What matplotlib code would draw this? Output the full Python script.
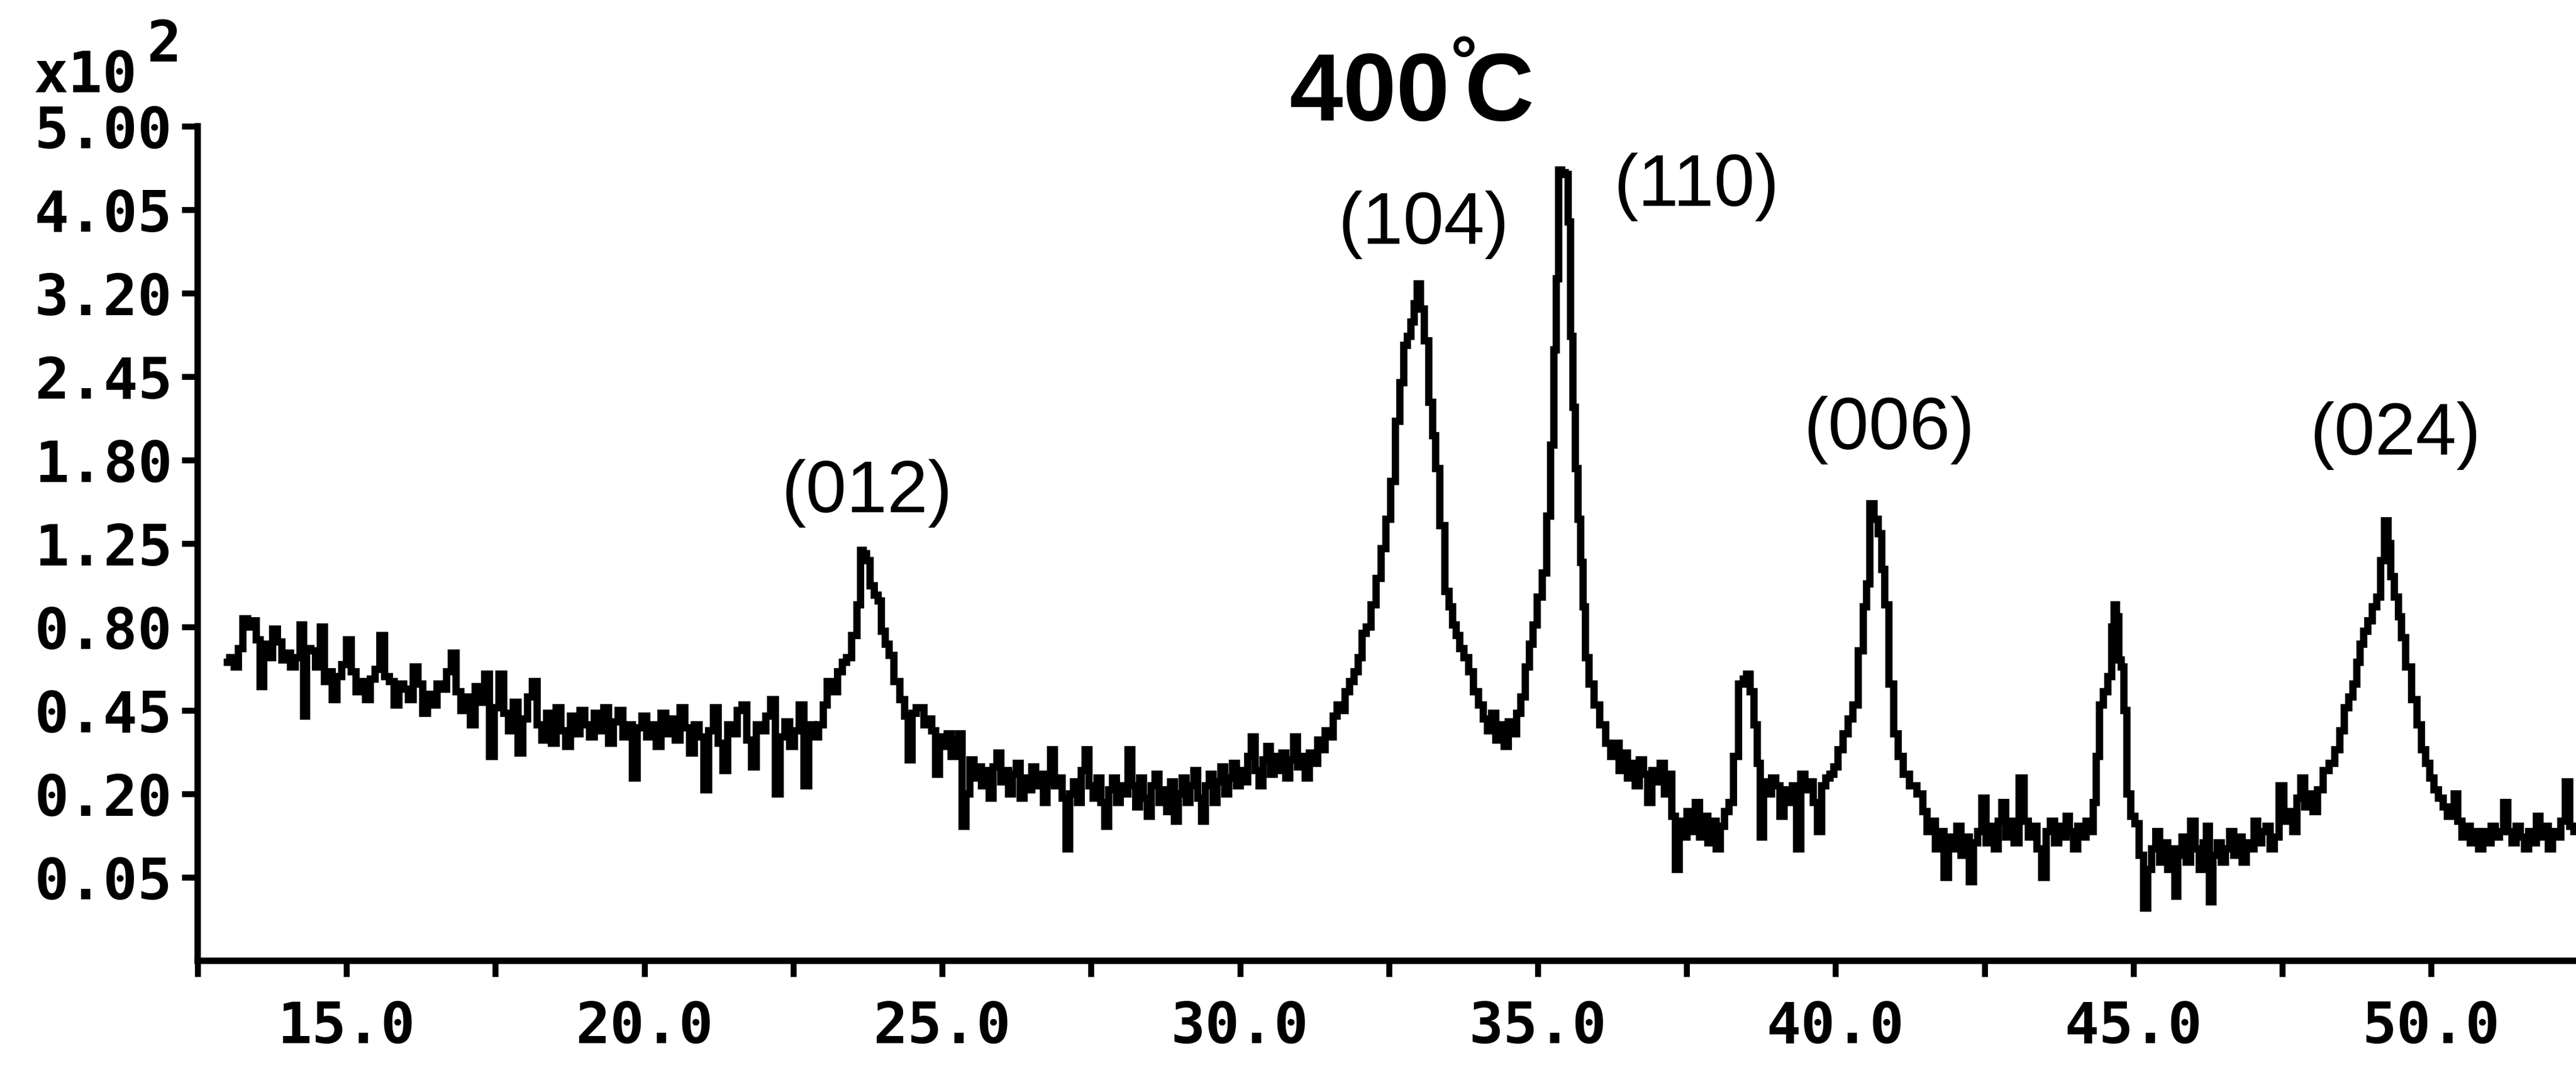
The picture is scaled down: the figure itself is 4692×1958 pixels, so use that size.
import numpy as np
import matplotlib
matplotlib.use("Agg")
import matplotlib.pyplot as plt
from matplotlib.ticker import MultipleLocator, FixedLocator

# 2-theta (deg) and intensity (x10^2 counts)
two_theta = [
    13.00, 13.08, 13.15, 13.22, 13.30, 13.38, 13.45, 13.52, 13.58, 13.64,
    13.72, 13.80, 13.88, 13.95, 14.02, 14.10, 14.18, 14.26, 14.30, 14.36,
    14.44, 14.52, 14.60, 14.66, 14.72, 14.80, 14.88, 14.96, 15.04, 15.12,
    15.20, 15.28, 15.36, 15.44, 15.52, 15.60, 15.68, 15.76, 15.84, 15.92,
    16.00, 16.08, 16.16, 16.24, 16.32, 16.40, 16.48, 16.56, 16.64, 16.72,
    16.80, 16.88, 16.96, 17.04, 17.12, 17.20, 17.28, 17.36, 17.44, 17.52,
    17.60, 17.68, 17.76, 17.84, 17.92, 18.00, 18.08, 18.16, 18.24, 18.32,
    18.40, 18.48, 18.56, 18.64, 18.72, 18.80, 18.88, 18.96, 19.04, 19.12,
    19.20, 19.28, 19.36, 19.44, 19.52, 19.60, 19.68, 19.76, 19.84, 19.92,
    20.00, 20.08, 20.16, 20.24, 20.32, 20.40, 20.48, 20.56, 20.64, 20.72,
    20.80, 20.88, 20.96, 21.04, 21.12, 21.20, 21.28, 21.36, 21.44, 21.52,
    21.60, 21.68, 21.76, 21.84, 21.92, 22.00, 22.08, 22.16, 22.24, 22.32,
    22.40, 22.48, 22.56, 22.64, 22.72, 22.80, 22.88, 22.97, 23.04, 23.10,
    23.20, 23.29, 23.36, 23.43, 23.53, 23.61, 23.65, 23.70, 23.76, 23.82,
    23.90, 23.95, 24.01, 24.08, 24.14, 24.24, 24.34, 24.40, 24.46, 24.53,
    24.60, 24.66, 24.73, 24.79, 24.86, 24.92, 24.99, 25.05, 25.12, 25.18,
    25.25, 25.30, 25.37, 25.43, 25.50, 25.57, 25.63, 25.69, 25.76, 25.82,
    25.89, 25.95, 26.02, 26.08, 26.15, 26.21, 26.28, 26.34, 26.41, 26.47,
    26.54, 26.60, 26.67, 26.73, 26.79, 26.85, 26.92, 26.98, 27.05, 27.11,
    27.17, 27.24, 27.30, 27.37, 27.43, 27.50, 27.57, 27.63, 27.70, 27.76,
    27.83, 27.89, 27.96, 28.02, 28.09, 28.15, 28.22, 28.28, 28.35, 28.41,
    28.48, 28.54, 28.61, 28.67, 28.74, 28.80, 28.87, 28.93, 29.00, 29.06,
    29.13, 29.19, 29.26, 29.32, 29.39, 29.45, 29.52, 29.58, 29.65, 29.71,
    29.78, 29.84, 29.91, 29.97, 30.04, 30.10, 30.16, 30.22, 30.29, 30.35,
    30.42, 30.48, 30.54, 30.61, 30.67, 30.74, 30.80, 30.87, 30.93, 31.00,
    31.06, 31.13, 31.20, 31.27, 31.34, 31.40, 31.46, 31.53, 31.60, 31.66,
    31.73, 31.80, 31.88, 31.95, 32.02, 32.08, 32.16, 32.24, 32.33, 32.41,
    32.49, 32.57, 32.65, 32.72, 32.78, 32.84, 32.90, 32.95, 33.00, 33.06,
    33.13, 33.21, 33.26, 33.31, 33.40, 33.48, 33.54, 33.60, 33.66, 33.72,
    33.80, 33.88, 33.96, 34.05, 34.12, 34.19, 34.26, 34.33, 34.40, 34.47,
    34.54, 34.61, 34.68, 34.75, 34.83, 34.89, 34.95, 35.03, 35.12, 35.18,
    35.25, 35.29, 35.33, 35.37, 35.43, 35.49, 35.53, 35.57, 35.61, 35.65,
    35.70, 35.74, 35.78, 35.82, 35.90, 35.99, 36.09, 36.19, 36.26, 36.33,
    36.40, 36.47, 36.54, 36.60, 36.67, 36.74, 36.81, 36.88, 36.95, 37.02,
    37.09, 37.16, 37.22, 37.28, 37.34, 37.41, 37.47, 37.54, 37.61, 37.68,
    37.75, 37.82, 37.89, 37.96, 38.03, 38.10, 38.17, 38.25, 38.32, 38.42,
    38.48, 38.53, 38.60, 38.66, 38.71, 38.76, 38.82, 38.89, 38.96, 39.03,
    39.10, 39.17, 39.24, 39.31, 39.38, 39.45, 39.52, 39.59, 39.66, 39.73,
    39.80, 39.87, 39.94, 40.00, 40.08, 40.17, 40.25, 40.33, 40.43, 40.50,
    40.54, 40.61, 40.68, 40.75, 40.80, 40.85, 40.94, 41.01, 41.09, 41.18,
    41.30, 41.43, 41.50, 41.57, 41.64, 41.71, 41.78, 41.86, 41.93, 42.00,
    42.07, 42.14, 42.21, 42.28, 42.35, 42.42, 42.49, 42.56, 42.63, 42.70,
    42.76, 42.82, 42.89, 42.96, 43.03, 43.13, 43.20, 43.27, 43.34, 43.42,
    43.50, 43.57, 43.64, 43.71, 43.78, 43.85, 43.89, 43.96, 44.03, 44.10,
    44.17, 44.24, 44.30, 44.35, 44.40, 44.46, 44.53, 44.61, 44.66, 44.69,
    44.74, 44.77, 44.82, 44.86, 44.92, 44.99, 45.06, 45.13, 45.21, 45.27,
    45.34, 45.41, 45.47, 45.54, 45.61, 45.68, 45.71, 45.78, 45.85, 45.92,
    46.00, 46.07, 46.14, 46.20, 46.25, 46.30, 46.37, 46.44, 46.51, 46.58,
    46.65, 46.72, 46.79, 46.86, 46.93, 47.00, 47.05, 47.12, 47.19, 47.26,
    47.33, 47.40, 47.49, 47.56, 47.64, 47.71, 47.78, 47.84, 47.91, 47.98,
    48.05, 48.13, 48.24, 48.33, 48.43, 48.50, 48.58, 48.65, 48.72, 48.78,
    48.83, 48.90, 48.97, 49.05, 49.12, 49.18, 49.25, 49.30, 49.34, 49.42,
    49.48, 49.52, 49.62, 49.72, 49.80, 49.87, 49.94, 50.01, 50.08, 50.16,
    50.24, 50.30, 50.36, 50.41, 50.48, 50.55, 50.62, 50.69, 50.76, 50.83,
    50.90, 50.97, 51.04, 51.11, 51.18, 51.25, 51.32, 51.39, 51.46, 51.53,
    51.60, 51.67, 51.74, 51.79, 51.86, 51.93, 52.00, 52.07, 52.14, 52.21,
    52.29, 52.36, 52.43,
]
intensity = [
    0.64, 0.66, 0.62, 0.70, 0.84, 0.80, 0.83, 0.74, 0.54, 0.72,
    0.66, 0.79, 0.73, 0.65, 0.68, 0.62, 0.66, 0.81, 0.43, 0.70,
    0.69, 0.62, 0.80, 0.56, 0.60, 0.49, 0.58, 0.63, 0.74, 0.60,
    0.52, 0.56, 0.49, 0.57, 0.61, 0.76, 0.58, 0.56, 0.47, 0.55,
    0.53, 0.49, 0.62, 0.55, 0.44, 0.51, 0.47, 0.55, 0.53, 0.60,
    0.68, 0.52, 0.45, 0.50, 0.40, 0.54, 0.48, 0.59, 0.30, 0.46,
    0.59, 0.44, 0.38, 0.48, 0.31, 0.42, 0.50, 0.56, 0.40, 0.35,
    0.44, 0.34, 0.46, 0.38, 0.33, 0.43, 0.37, 0.45, 0.40, 0.36,
    0.44, 0.38, 0.46, 0.34, 0.41, 0.45, 0.36, 0.40, 0.24, 0.39,
    0.43, 0.36, 0.40, 0.33, 0.44, 0.37, 0.42, 0.35, 0.46, 0.39,
    0.31, 0.40, 0.36, 0.21, 0.38, 0.46, 0.34, 0.26, 0.40, 0.37,
    0.45, 0.47, 0.35, 0.27, 0.40, 0.38, 0.43, 0.49, 0.20, 0.36,
    0.41, 0.33, 0.38, 0.47, 0.22, 0.40, 0.36, 0.40, 0.47, 0.56,
    0.52, 0.60, 0.64, 0.66, 0.76, 0.91, 1.21, 1.19, 1.15, 1.01,
    0.96, 0.93, 0.78, 0.72, 0.67, 0.56, 0.49, 0.43, 0.29, 0.44,
    0.46, 0.46, 0.40, 0.42, 0.38, 0.25, 0.36, 0.33, 0.37, 0.30,
    0.35, 0.37, 0.13, 0.20, 0.29, 0.24, 0.27, 0.22, 0.26, 0.19,
    0.27, 0.31, 0.23, 0.26, 0.20, 0.25, 0.28, 0.19, 0.24, 0.21,
    0.27, 0.22, 0.25, 0.18, 0.23, 0.32, 0.22, 0.24, 0.19, 0.09,
    0.20, 0.23, 0.18, 0.26, 0.32, 0.22, 0.19, 0.24, 0.18, 0.13,
    0.21, 0.24, 0.18, 0.22, 0.20, 0.32, 0.22, 0.17, 0.24, 0.19,
    0.15, 0.22, 0.25, 0.18, 0.21, 0.16, 0.23, 0.14, 0.20, 0.24,
    0.18, 0.22, 0.26, 0.19, 0.14, 0.22, 0.25, 0.18, 0.23, 0.27,
    0.20, 0.24, 0.28, 0.22, 0.26, 0.23, 0.30, 0.36, 0.26, 0.22,
    0.29, 0.33, 0.25, 0.30, 0.26, 0.31, 0.24, 0.29, 0.36, 0.27,
    0.30, 0.24, 0.31, 0.28, 0.35, 0.32, 0.38, 0.36, 0.43, 0.47,
    0.45, 0.52, 0.56, 0.60, 0.66, 0.77, 0.80, 0.91, 1.05, 1.22,
    1.40, 1.65, 2.09, 2.40, 2.72, 2.80, 2.93, 3.10, 3.29, 3.05,
    2.76, 2.24, 1.98, 1.74, 1.36, 0.98, 0.90, 0.81, 0.76, 0.70,
    0.66, 0.60, 0.52, 0.47, 0.42, 0.38, 0.44, 0.35, 0.40, 0.33,
    0.41, 0.37, 0.44, 0.50, 0.62, 0.72, 0.81, 0.95, 1.08, 1.42,
    1.91, 2.68, 3.34, 4.49, 4.46, 4.44, 3.92, 2.80, 2.20, 1.74,
    1.40, 1.14, 0.90, 0.66, 0.55, 0.47, 0.40, 0.34, 0.30, 0.34,
    0.26, 0.31, 0.24, 0.28, 0.22, 0.29, 0.25, 0.18, 0.26, 0.23,
    0.28, 0.20, 0.25, 0.15, 0.06, 0.14, 0.11, 0.16, 0.12, 0.18,
    0.11, 0.15, 0.10, 0.14, 0.09, 0.13, 0.16, 0.18, 0.30, 0.55,
    0.57, 0.59, 0.52, 0.40, 0.28, 0.11, 0.23, 0.20, 0.24, 0.22,
    0.15, 0.21, 0.18, 0.22, 0.09, 0.25, 0.21, 0.23, 0.18, 0.12,
    0.22, 0.24, 0.25, 0.27, 0.32, 0.37, 0.42, 0.47, 0.69, 0.90,
    1.02, 1.50, 1.40, 1.31, 1.10, 0.91, 0.55, 0.37, 0.30, 0.25,
    0.22, 0.20, 0.16, 0.12, 0.14, 0.09, 0.12, 0.05, 0.11, 0.09,
    0.13, 0.08, 0.11, 0.045, 0.10, 0.12, 0.19, 0.10, 0.13, 0.09,
    0.14, 0.18, 0.11, 0.14, 0.10, 0.24, 0.14, 0.11, 0.13, 0.09,
    0.05, 0.12, 0.14, 0.10, 0.13, 0.11, 0.15, 0.12, 0.09, 0.13,
    0.11, 0.14, 0.12, 0.18, 0.30, 0.47, 0.52, 0.58, 0.80, 0.91,
    0.85, 0.65, 0.62, 0.45, 0.20, 0.15, 0.135, 0.08, 0.02, 0.06,
    0.09, 0.12, 0.07, 0.10, 0.06, 0.09, 0.03, 0.08, 0.11, 0.07,
    0.14, 0.09, 0.06, 0.10, 0.13, 0.025, 0.08, 0.10, 0.07, 0.09,
    0.12, 0.08, 0.11, 0.07, 0.10, 0.09, 0.14, 0.10, 0.12, 0.13,
    0.09, 0.11, 0.22, 0.14, 0.16, 0.12, 0.19, 0.24, 0.17, 0.20,
    0.16, 0.21, 0.26, 0.28, 0.32, 0.38, 0.46, 0.50, 0.55, 0.64,
    0.72, 0.78, 0.83, 0.90, 0.95, 1.15, 1.39, 1.25, 1.06, 0.95,
    0.85, 0.75, 0.62, 0.49, 0.40, 0.32, 0.28, 0.24, 0.21, 0.19,
    0.17, 0.15, 0.15, 0.20, 0.14, 0.11, 0.13, 0.10, 0.12, 0.09,
    0.12, 0.10, 0.13, 0.11, 0.12, 0.18, 0.12, 0.10, 0.13, 0.11,
    0.09, 0.12, 0.10, 0.15, 0.11, 0.13, 0.09, 0.12, 0.11, 0.14,
    0.23, 0.13, 0.12,
]

# y axis is a square-root scale, labels as printed on the chart
y_ticks = [0.05, 0.20, 0.45, 0.80, 1.25, 1.80, 2.45, 3.20, 4.05, 5.00]
y_tick_labels = ["0.05", "0.20", "0.45", "0.80", "1.25",
                 "1.80", "2.45", "3.20", "4.05", "5.00"]
x_ticks = [15, 20, 25, 30, 35, 40, 45, 50]
x_tick_labels = ["15.0", "20.0", "25.0", "30.0", "35.0", "40.0", "45.0", "50.0"]

peak_labels = ["(012)", "(104)", "(110)", "(006)", "(024)"]
peak_label_x = [23.74, 33.09, 37.67, 40.90, 49.40]
peak_label_y = [1.57, 3.89, 4.30, 2.02, 1.98]

MONO = ["DejaVu Sans Mono", "DejaVu Sans"]
SANS = ["Liberation Sans", "DejaVu Sans"]

plt.rcParams["mathtext.fontset"] = "custom"
plt.rcParams["mathtext.rm"] = "Liberation Sans"
plt.rcParams["mathtext.bf"] = "Liberation Sans:bold"


def fwd(v):
    return np.sqrt(np.clip(v, 0, None))


def inv(k):
    return np.square(k)


fig = plt.figure(figsize=(15.64, 6.5267), dpi=300)
ax = fig.add_axes([0.0767, 0.1062, 0.9233, 0.7763])

ax.plot(two_theta, intensity, color="black", lw=3.2, drawstyle="steps-mid",
        solid_joinstyle="miter")

ax.set_yscale("function", functions=(fwd, inv))
ax.set_ylim(0, 5.0)
ax.set_xlim(12.5, 52.43)

ax.yaxis.set_major_locator(FixedLocator(y_ticks))
ax.set_yticklabels(y_tick_labels, family=MONO, fontweight="bold", fontsize=25)
ax.set_xticks(x_ticks)
ax.set_xticklabels(x_tick_labels, family=MONO, fontweight="bold", fontsize=25)
ax.xaxis.set_minor_locator(MultipleLocator(2.5))
ax.yaxis.set_minor_locator(FixedLocator([]))

for side in ["top", "right"]:
    ax.spines[side].set_visible(False)
for side in ["left", "bottom"]:
    ax.spines[side].set_linewidth(2.8)

ax.tick_params(axis="both", which="both", direction="out", length=7, width=2.6)
ax.tick_params(axis="y", pad=4)
ax.tick_params(axis="x", pad=10)

for lab, lx, ly in zip(peak_labels, peak_label_x, peak_label_y):
    ax.text(lx, ly, lab, ha="center", va="center", fontsize=32, family=SANS)

fig.text(0.5475, 0.8877, r"$\mathbf{400}^{\mathbf{°}}\!\mathbf{C}$",
         ha="center", va="baseline", fontsize=42)

fig.text(0.013, 0.914, "x10", ha="left", va="baseline", fontsize=25,
         fontweight="bold", family=MONO)
fig.text(0.057, 0.943, "2", ha="left", va="baseline", fontsize=25,
         fontweight="bold", family=MONO)

fig.savefig("out.png", dpi=300)
